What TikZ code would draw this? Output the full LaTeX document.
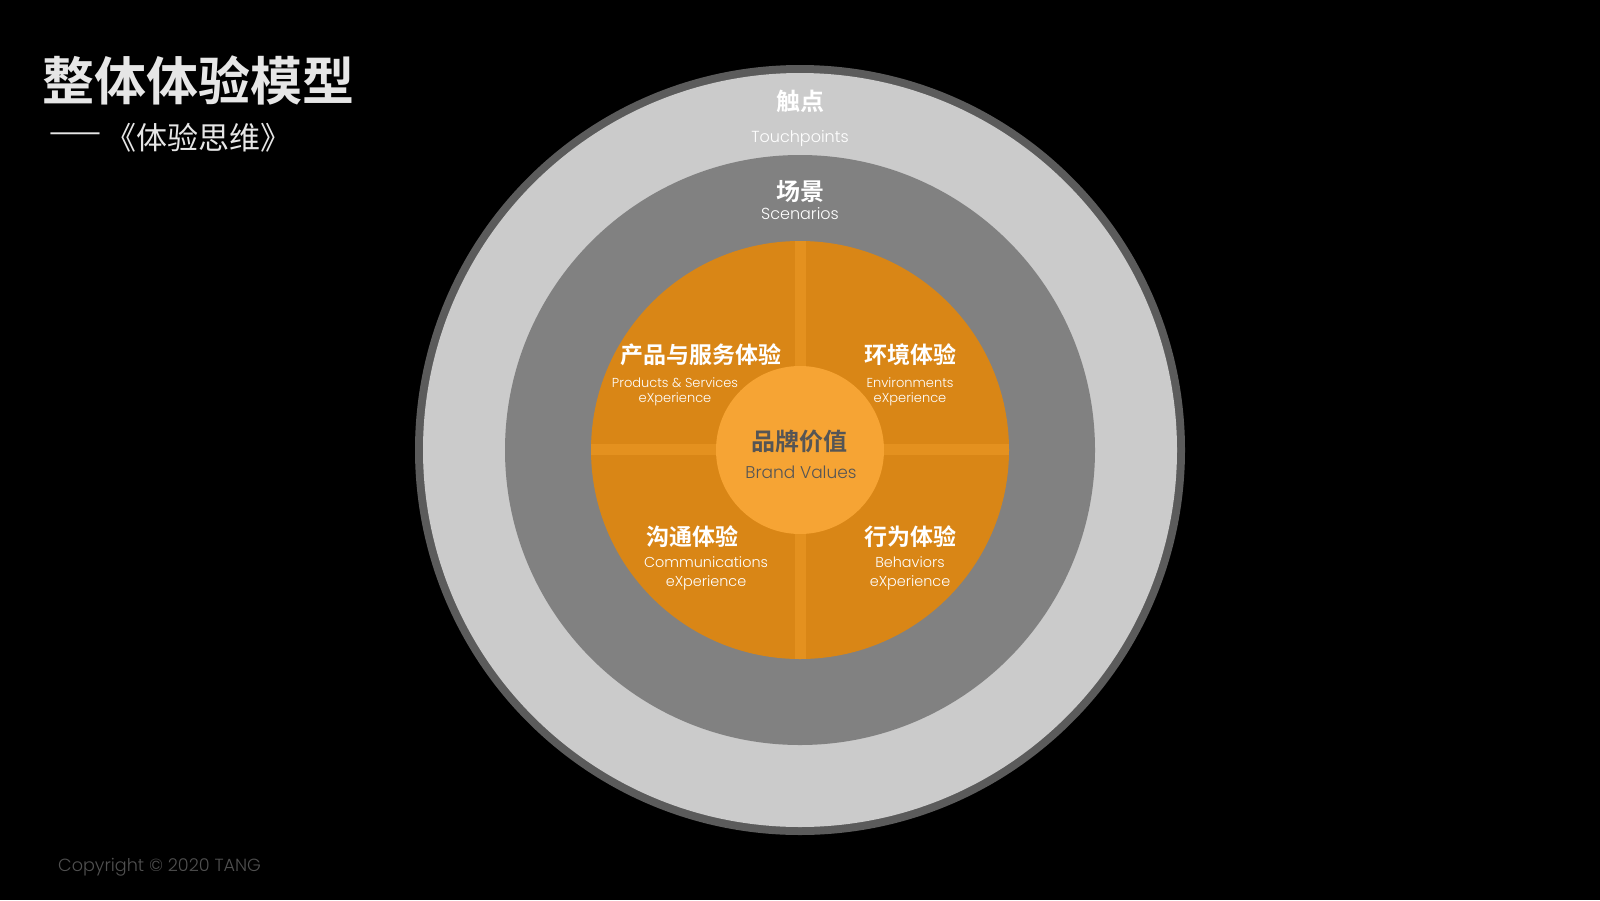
\documentclass[tikz,border=0pt]{standalone}
\usepackage{fontspec}
\newfontfamily\en{Poppins}[UprightFont=* Light]
\newfontfamily\cjk{Noto Sans CJK SC}[BoldFont=* Bold]
\definecolor{ringdark}{HTML}{5B5B5B}
\definecolor{ringlight}{HTML}{CBCBCB}
\definecolor{ringmid}{HTML}{818181}
\definecolor{orng}{HTML}{D98616}
\definecolor{stripe}{HTML}{E4911F}
\definecolor{core}{HTML}{F6A434}
\definecolor{coretext}{HTML}{555555}
\definecolor{copy}{HTML}{505050}
\definecolor{titlecol}{HTML}{E6E6E6}
\tikzset{
  zh/.style={inner sep=0pt, text=white, font=\cjk\bfseries\fontsize{24}{24}\selectfont},
  zhq/.style={inner sep=0pt, text=white, font=\cjk\bfseries\fontsize{23}{23}\selectfont},
  enl/.style={inner sep=0pt, text=white, font=\en\fontsize{16}{16}\selectfont},
  ens/.style={inner sep=0pt, text=white, align=center, font=\en\fontsize{13}{15.5}\selectfont},
  enm/.style={inner sep=0pt, text=white, align=center, font=\en\fontsize{14.4}{19}\selectfont},
}
\begin{document}
\begin{tikzpicture}[x=1pt,y=-1pt]
\fill[black] (0,0) rectangle (1600,900);
\useasboundingbox (0,0) rectangle (1600,900);
\coordinate (c) at (800,450);
% rings
\fill[ringdark] (c) circle[radius=385pt];
\fill[ringlight] (c) circle[radius=377pt];
\fill[ringmid] (c) circle[radius=295pt];
\fill[orng] (c) circle[radius=209pt];
\begin{scope}
  \clip (c) circle[radius=209pt];
  \fill[stripe] (794.5,230) rectangle (805.5,670);
  \fill[stripe] (580,444) rectangle (1020,455);
\end{scope}
\fill[core] (c) circle[radius=84pt];
% title
\node[inner sep=0pt, anchor=west, text=titlecol, font=\cjk\bfseries\fontsize{52}{52}\selectfont] (title) at (42,80) {整体体验模型};
\node[inner sep=0pt, anchor=west, text=titlecol, font=\cjk\fontsize{31}{31}\selectfont] (dash) at (49,138) {——};
\node[inner sep=0pt, anchor=west, text=titlecol, font=\cjk\fontsize{31}{31}\selectfont] (subtitle) at (105,138) {《体验思维》};
% outer labels
\node[zh] (touch) at (800,101) {触点};
\node[enl] (toucheng) at (800,139) {Touchpoints};
\node[zh] (scen) at (800,192) {场景};
\node[enl] (sceneng) at (800,214) {Scenarios};
% quadrants
\node[zhq] (prod) at (701,355) {产品与服务体验};
\node[ens] (prodeng) at (675,392) {Products \& Services\\eXperience};
\node[zhq] (env) at (910,355) {环境体验};
\node[ens] (enveng) at (910,392) {Environments\\eXperience};
\node[zhq] (comm) at (692,537) {沟通体验};
\node[enm] (commeng) at (706,573) {Communications\\eXperience};
\node[zhq] (beh) at (910,537) {行为体验};
\node[enm] (beheng) at (910,573) {Behaviors\\eXperience};
% core
\node[zh, text=coretext] (brand) at (799,441) {品牌价值};
\node[enl, text=coretext, font=\en\fontsize{17}{17}\selectfont] (brandeng) at (801,472) {Brand Values};
% copyright
\node[inner sep=0pt, anchor=west, text=copy, font=\en\fontsize{17.6}{17.6}\selectfont] (copyright) at (58,867) {Copyright © 2020 TANG};
\end{tikzpicture}
\end{document}
